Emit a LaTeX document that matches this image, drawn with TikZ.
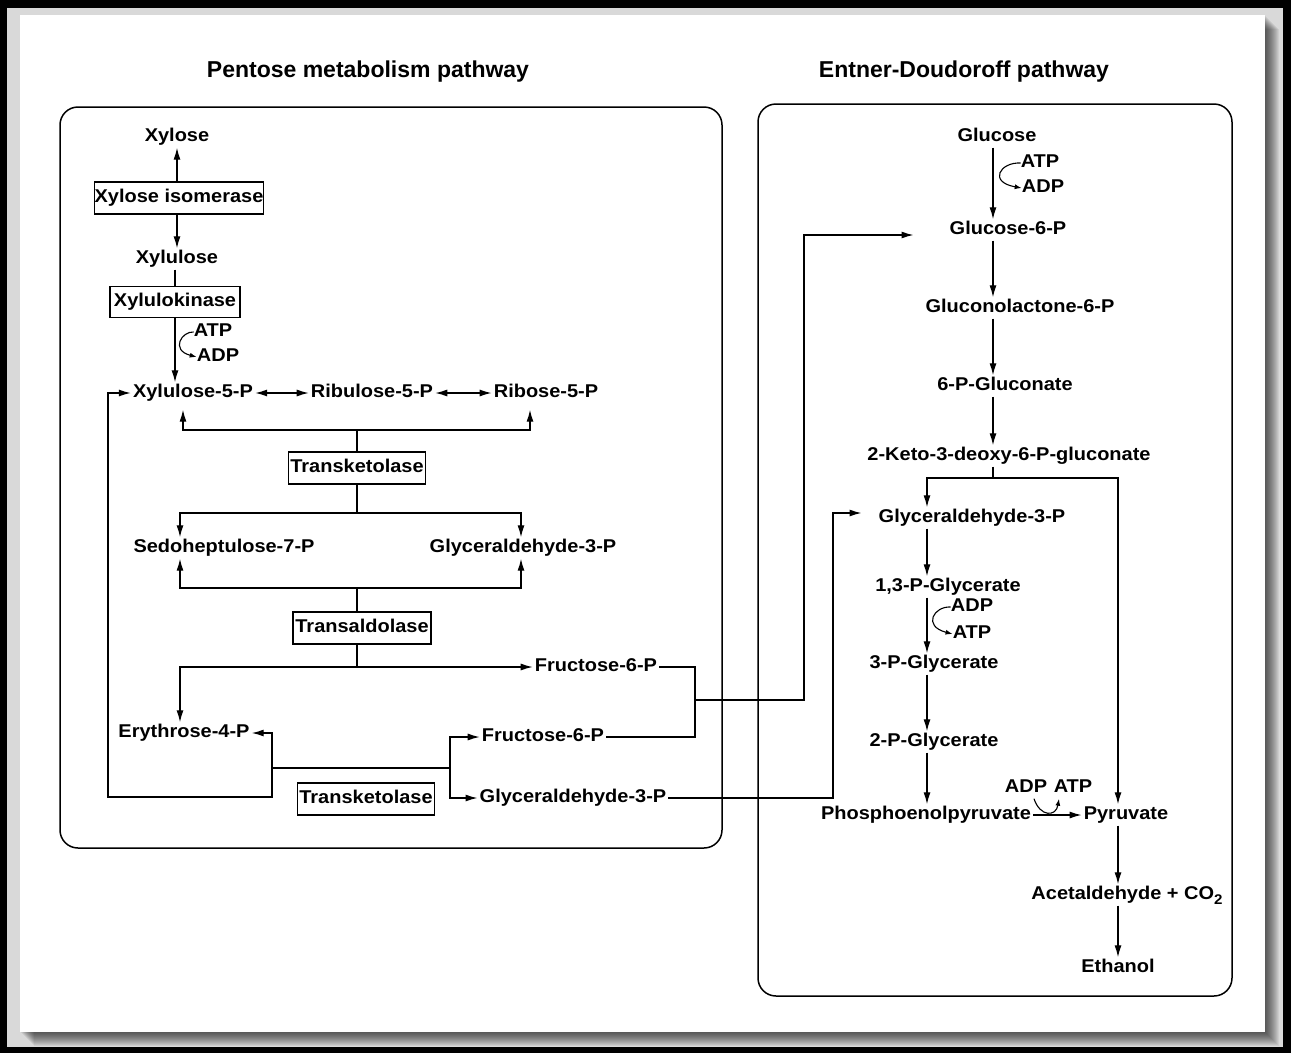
\documentclass[tikz,border=0pt]{standalone}
\usepackage{fontspec}
\setmainfont{Liberation Sans}
\newfontfamily\lblfont[FakeStretch=1.08]{Liberation Sans}
\usetikzlibrary{arrows.meta,calc}
\begin{document}
\begin{tikzpicture}[x=1pt,y=-1pt,
  lbl/.style={font=\lblfont\bfseries\fontsize{18.5}{20}\selectfont, inner sep=2pt, text height=13pt, text depth=4pt},
  enz/.style={lbl, draw, line width=1.3pt, inner sep=0pt, minimum height=32pt},
  ttl/.style={font=\bfseries\fontsize{23}{26}\selectfont},
  ln/.style={line width=1.3pt},
  arr/.style={ln, -{Latex[length=12pt,width=7pt]}},
  darr/.style={ln, {Latex[length=12pt,width=7pt]}-{Latex[length=12pt,width=7pt]}},
  carr/.style={line width=1.1pt, -{Latex[length=7pt,width=5pt]}},
  panel/.style={line width=1.5pt, rounded corners=18pt}
]
\useasboundingbox (0,0) rectangle (1291,1053);
% frame
\fill[black] (0,0) rectangle (1291,1053);
\fill[gray!30] (7,8) rectangle (1283,1047);
\foreach \i in {1,...,14} \fill[black,opacity=0.06] (20+\i,15+\i) rectangle (1265+\i,1032+\i);
\fill[white] (20,15) rectangle (1265,1032);

% panels
\draw[panel] (60,107) rectangle (722,848);
\draw[panel] (758,104) rectangle (1232,996);
\node[ttl] (t1) at (368,72) {Pentose metabolism pathway};
\node[ttl] (t2) at (964,72) {Entner-Doudoroff pathway};

% ---------- left ----------
\node[lbl] (xyl) at (177,137) {Xylose};
\node[enz, minimum width=168pt] (xi) at (179,198) {Xylose isomerase};
\node[lbl] (xlu) at (177,259) {Xylulose};
\node[enz, minimum width=130pt, minimum height=31pt] (xk) at (175,302) {Xylulokinase};
\node[lbl] (atpa) at (213,332) {ATP};
\node[lbl] (adpa) at (218,357) {ADP};
\node[lbl] (x5p) at (193,393) {Xylulose-5-P};
\node[lbl] (r5p) at (372,393) {Ribulose-5-P};
\node[lbl] (rb5p) at (546,393) {Ribose-5-P};
\node[enz, minimum width=137pt] (tk1) at (357,468) {Transketolase};
\node[lbl] (s7p) at (224,548) {Sedoheptulose-7-P};
\node[lbl] (g3pa) at (523,548) {Glyceraldehyde-3-P};
\node[enz, minimum width=138pt] (ta) at (362,628) {Transaldolase};
\node[lbl] (f6pa) at (596,667) {Fructose-6-P};
\node[lbl] (e4p) at (184,733) {Erythrose-4-P};
\node[lbl] (f6pb) at (543,737) {Fructose-6-P};
\node[lbl] (g3pb) at (573,798) {Glyceraldehyde-3-P};
\node[enz, minimum width=137pt] (tk2) at (366,799) {Transketolase};

% ---------- right ----------
\node[lbl] (glc) at (997,137) {Glucose};
\node[lbl] (atpb) at (1040,163) {ATP};
\node[lbl] (adpb) at (1043,188) {ADP};
\node[lbl] (g6p) at (1008,230) {Glucose-6-P};
\node[lbl] (glp) at (1020,308) {Gluconolactone-6-P};
\node[lbl] (pgc) at (1005,386) {6-P-Gluconate};
\node[lbl] (kdpg) at (1009,456) {2-Keto-3-deoxy-6-P-gluconate};
\node[lbl] (g3pr) at (972,518) {Glyceraldehyde-3-P};
\node[lbl] (bpg) at (948,587) {1,3-P-Glycerate};
\node[lbl] (adpc) at (972,607) {ADP};
\node[lbl] (atpc) at (972,634) {ATP};
\node[lbl] (pg3) at (934,664) {3-P-Glycerate};
\node[lbl] (pg2) at (934,742) {2-P-Glycerate};
\node[lbl] (pep) at (926,815) {Phosphoenolpyruvate};
\node[lbl] (adpd) at (1026,788) {ADP};
\node[lbl] (atpd) at (1073,788) {ATP};
\node[lbl] (pyr) at (1126,815) {Pyruvate};
\node[lbl] (acet) at (1127,895) {Acetaldehyde + CO\raisebox{-5pt}{\fontsize{14}{14}\selectfont 2}};
\node[lbl] (eth) at (1118,968) {Ethanol};

% ---------- left connectors ----------
\coordinate (cxa) at (175,0);
\draw[arr] (xi.north -| xyl) -- (xyl.south);
\draw[arr] (xi.south -| xyl) -- (xlu.north);
\draw[ln] (xlu.south -| cxa) -- (xk.north -| cxa);
\draw[arr] (xk.south -| cxa) -- (x5p.north -| cxa);
\draw[carr] ([xshift=2pt]atpa.west) .. controls (182,331) and (170,350) .. ([xshift=2pt]adpa.west);

\draw[darr] (x5p.east) -- (r5p.west);
\draw[darr] (r5p.east) -- (rb5p.west);

\coordinate (j1) at (357,430);
\draw[arr] (j1) -| ([xshift=-10pt,yshift=-6pt]x5p.south);
\draw[arr] (j1) -| ([xshift=-16pt,yshift=-6pt]rb5p.south);
\draw[ln] (j1) -- (tk1.north);

\coordinate (j2) at (357,513);
\draw[ln] (tk1.south) -- (j2);
\draw[arr] (j2) -| ([xshift=-44pt]s7p.north);
\draw[arr] (j2) -| ([xshift=-2pt]g3pa.north);

\coordinate (j3) at (357,588);
\draw[arr] (j3) -| ([xshift=-44pt]s7p.south);
\draw[arr] (j3) -| ([xshift=-2pt]g3pa.south);
\draw[ln] (j3) -- (j3 |- ta.north);

\coordinate (j4) at (357,667);
\draw[ln] (j4 |- ta.south) -- (j4);
\draw[arr] (j4) -- (f6pa.west);
\draw[arr] (j4) -| ([xshift=-4pt]e4p.north);

\coordinate (j5) at (272,768);
\coordinate (j6) at (450,768);
\coordinate (j7) at (272,797);
\coordinate (j8) at (108,797);
\draw[ln] (j5) -- (j6);
\draw[arr] (j6) |- (f6pb.west);
\draw[arr] (j6) |- (g3pb.west);
\draw[arr] (j5) |- (e4p.east);
\draw[arr] (j5) -- (j7) -- (j8) |- (x5p.west);

% links to right panel
\coordinate (fj) at (695,700);
\coordinate (gup) at (804,700);
\draw[ln] (f6pa.east) -| (fj);
\draw[ln] (f6pb.east) -| (fj);
\draw[arr] (fj) -- (gup) |- ([xshift=-34pt,yshift=-5pt]g6p.west);

\coordinate (gj) at (833,798);
\draw[arr] (g3pb.east) -- (gj) |- ([xshift=-15pt,yshift=5pt]g3pr.west);

% ---------- right connectors ----------
\coordinate (cxb) at (993,0);
\coordinate (cxc) at (927,0);
\coordinate (cxd) at (1118,0);
\draw[arr] (glc.south -| cxb) -- (g6p.north -| cxb);
\draw[carr] ([xshift=2pt]atpb.west) .. controls (1000,162) and (988,182) .. ([xshift=2pt]adpb.west);
\draw[arr] (g6p.south -| cxb) -- (glp.north -| cxb);
\draw[arr] (glp.south -| cxb) -- (pgc.north -| cxb);
\draw[arr] (pgc.south -| cxb) -- (kdpg.north -| cxb);

\coordinate (ksp) at (993,478);
\draw[ln] (kdpg.south -| ksp) -- (ksp);
\draw[arr] (ksp) -| (g3pr.north -| cxc);
\draw[arr] (ksp) -| (pyr.north -| cxd);

\draw[arr] (g3pr.south -| cxc) -- (bpg.north -| cxc);
\draw[arr] (bpg.south -| cxc) -- (pg3.north -| cxc);
\draw[carr] ([xshift=2pt]adpc.west) .. controls (934,606) and (922,626) .. ([xshift=2pt]atpc.west);
\draw[arr] (pg3.south -| cxc) -- (pg2.north -| cxc);
\draw[arr] (pg2.south -| cxc) -- (pep.north -| cxc);

\draw[arr] (pep.east) -- (pyr.west);
\draw[carr] ([xshift=8pt]adpd.south) .. controls (1040,817) and (1056,817) .. ([xshift=-14pt]atpd.south);

\draw[arr] (pyr.south -| cxd) -- (acet.north -| cxd);
\draw[arr] (acet.south -| cxd) -- (eth.north -| cxd);
\end{tikzpicture}
\end{document}
